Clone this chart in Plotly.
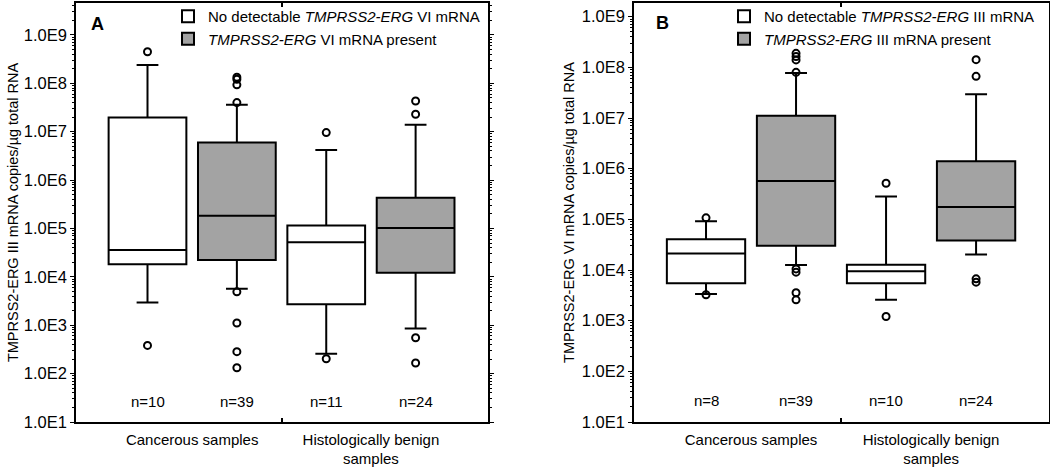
import plotly.graph_objects as go

categories = ["Cancerous samples", "Histologically benign samples"]
cat_text = ["Cancerous samples", "Histologically benign<br>samples"]

# Panel A: TMPRSS2-ERG III copies, split by TMPRSS2-ERG VI status
a_none_q1 = [1.83e4, 2.73e3]
a_none_med = [3.6e4, 5.2e4]
a_none_q3 = [1.96e7, 1.15e5]
a_none_lo = [2.96e3, 2.58e2]
a_none_hi = [2.4e8, 4.2e6]
a_none_out = [[4.5e8, 3.83e2], [9.6e6, 2.03e2]]
a_none_n = [10, 11]

a_pres_q1 = [2.22e4, 1.21e4]
a_pres_med = [1.83e5, 1.02e5]
a_pres_q3 = [5.97e6, 4.3e5]
a_pres_lo = [5.67e3, 8.61e2]
a_pres_hi = [3.6e7, 1.4e7]
a_pres_out = [[1.34e8, 1.21e8, 9.3e7, 4.0e7, 4.9e3, 1.11e3, 2.84e2, 1.32e2],
              [4.3e7, 2.3e7, 5.52e2, 1.66e2]]
a_pres_n = [39, 24]

# Panel B: TMPRSS2-ERG VI copies, split by TMPRSS2-ERG III status
b_none_q1 = [5.5e3, 5.5e3]
b_none_med = [2.11e4, 9.5e3]
b_none_q3 = [4.06e4, 1.27e4]
b_none_lo = [3.35e3, 2.58e3]
b_none_hi = [9.2e4, 2.82e5]
b_none_out = [[1.07e5, 3.25e3], [5.16e5, 1.21e3]]
b_none_n = [8, 10]

b_pres_q1 = [3.0e4, 3.82e4]
b_pres_med = [5.74e5, 1.76e5]
b_pres_q3 = [1.11e7, 1.40e6]
b_pres_lo = [1.26e4, 2.02e4]
b_pres_hi = [7.7e7, 2.94e7]
b_pres_out = [[1.89e8, 1.63e8, 1.40e8, 7.98e7, 1.05e4, 9.06e3, 3.55e3, 2.58e3],
              [1.42e8, 6.65e7, 6.7e3, 5.75e3]]
b_pres_n = [39, 24]

ytick_exp = [1, 2, 3, 4, 5, 6, 7, 8, 9]
ytick_text = ["1.0E%d" % e for e in ytick_exp]

FONT = "Liberation Sans, Arial, sans-serif"
WHITE = "#ffffff"
GRAY = "#a3a3a3"

fig = go.Figure()

def add_box(name, fill, q1, med, q3, lo, hi, out, xa, ya, group, panel, series):
    fig.add_trace(go.Box(
        name=name, x=categories, q1=q1, median=med, q3=q3,
        lowerfence=lo, upperfence=hi, y=out,
        boxpoints="outliers", jitter=0, pointpos=0,
        fillcolor=fill, line=dict(color="black", width=2),
        marker=dict(symbol="circle-open", color="black", size=7,
                    line=dict(width=2, color="black")),
        whiskerwidth=0.28, xaxis=xa, yaxis=ya, showlegend=True,
        alignmentgroup=panel, offsetgroup=series,
        legend=group, hoverinfo="skip"))

add_box("No detectable <i>TMPRSS2-ERG</i> VI mRNA", WHITE, a_none_q1, a_none_med,
        a_none_q3, a_none_lo, a_none_hi, a_none_out, "x", "y", "legend", "A", "none")
add_box("<i>TMPRSS2-ERG</i> VI mRNA present", GRAY, a_pres_q1, a_pres_med,
        a_pres_q3, a_pres_lo, a_pres_hi, a_pres_out, "x", "y", "legend", "A", "pres")
add_box("No detectable <i>TMPRSS2-ERG</i> III mRNA", WHITE, b_none_q1, b_none_med,
        b_none_q3, b_none_lo, b_none_hi, b_none_out, "x2", "y2", "legend2", "B", "none")
add_box("<i>TMPRSS2-ERG</i> III mRNA present", GRAY, b_pres_q1, b_pres_med,
        b_pres_q3, b_pres_lo, b_pres_hi, b_pres_out, "x2", "y2", "legend2", "B", "pres")

ydom = [45 / 467, 464 / 467]
xdomA = [76 / 1050, 488 / 1050]
xdomB = [634 / 1050, 1049 / 1050]
XR = [-0.65, 1.655]

def xaxis_cfg(dom, anchor):
    return dict(domain=dom, anchor=anchor, range=XR, type="category",
                tickvals=categories, ticktext=cat_text, ticks="",
                ticklabelstandoff=3,
                showline=True, mirror=True, linecolor="black", linewidth=1.5,
                showgrid=False, zeroline=False, automargin=False,
                tickfont=dict(family=FONT, size=15, color="black"))

def yaxis_cfg(anchor, rng, title, standoff):
    return dict(domain=ydom, anchor=anchor, type="log", range=rng,
                tickvals=[10 ** e for e in ytick_exp], ticktext=ytick_text,
                ticks="outside", ticklen=4, tickwidth=1.2, tickcolor="black",
                minor=dict(ticks="outside", ticklen=2, tickcolor="black",
                           tickwidth=1, dtick="D1", showgrid=False),
                showline=True, mirror="ticks", linecolor="black", linewidth=1.5,
                showgrid=False, zeroline=False, automargin=False,
                tickfont=dict(family=FONT, size=16.5, color="black"),
                title=dict(text=title, standoff=standoff,
                           font=dict(family=FONT, size=14.5, color="black")))

# overlay axes for the middle boundary tick
def tick_axis(dom, anchor, overlay):
    return dict(domain=dom, anchor=anchor, overlaying=overlay, range=XR,
                tickvals=[0.5], showticklabels=False, ticks="inside",
                ticklen=4, tickcolor="black", tickwidth=1.5, mirror="ticks",
                showline=False, showgrid=False, zeroline=False, automargin=False)

fig.update_layout(
    width=1050, height=467,
    margin=dict(l=0, r=0, t=0, b=0, autoexpand=False),
    paper_bgcolor="white", plot_bgcolor="white",
    boxmode="group", boxgap=0, boxgroupgap=0.13,
    font=dict(family=FONT, size=15, color="black"),
    xaxis=xaxis_cfg(xdomA, "y"),
    xaxis2=xaxis_cfg(xdomB, "y2"),
    xaxis3=tick_axis(xdomA, "y", "x"),
    xaxis4=tick_axis(xdomB, "y2", "x2"),
    yaxis=yaxis_cfg("x", [1, 9.66], "TMPRSS2-ERG III mRNA copies/µg total RNA", 2),
    yaxis2=yaxis_cfg("x2", [1, 9.27], "TMPRSS2-ERG VI mRNA copies/µg total RNA", 4),
    legend=dict(x=168 / 1050, y=1, xanchor="left", yanchor="top",
                bgcolor="rgba(0,0,0,0)", font=dict(family=FONT, size=15),
                tracegroupgap=0, itemsizing="constant"),
    legend2=dict(x=724 / 1050, y=1, xanchor="left", yanchor="top",
                 bgcolor="rgba(0,0,0,0)", font=dict(family=FONT, size=15),
                 tracegroupgap=0, itemsizing="constant"),
)

# invisible traces to activate the overlay tick axes
fig.add_trace(go.Scatter(x=[0.5], y=[10], xaxis="x3", yaxis="y", mode="markers",
                         marker=dict(opacity=0), showlegend=False, hoverinfo="skip"))
fig.add_trace(go.Scatter(x=[0.5], y=[10], xaxis="x4", yaxis="y2", mode="markers",
                         marker=dict(opacity=0), showlegend=False, hoverinfo="skip"))

# panel letters
fig.add_annotation(text="<b>A</b>", x=97 / 1050, y=1 - 24 / 467, xref="paper", yref="paper",
                   xanchor="center", yanchor="middle", showarrow=False,
                   font=dict(family=FONT, size=18, color="black"))
fig.add_annotation(text="<b>B</b>", x=662 / 1050, y=1 - 23 / 467, xref="paper", yref="paper",
                   xanchor="center", yanchor="middle", showarrow=False,
                   font=dict(family=FONT, size=18, color="black"))

# n labels
offsets = [-0.25, 0.25]
for xa, ya, ns in [("x3", "y", [a_none_n, a_pres_n]), ("x4", "y2", [b_none_n, b_pres_n])]:
    for gi, nlist in enumerate(ns):
        for ci, n in enumerate(nlist):
            fig.add_annotation(text="n=%d" % n, x=ci + offsets[gi], y=1.42,
                               xref=xa, yref=ya, showarrow=False,
                               xanchor="center", yanchor="middle",
                               font=dict(family=FONT, size=15, color="black"))

fig.write_html("out.html", config={"displayModeBar": False},
               post_script="document.body.style.margin='0';")
